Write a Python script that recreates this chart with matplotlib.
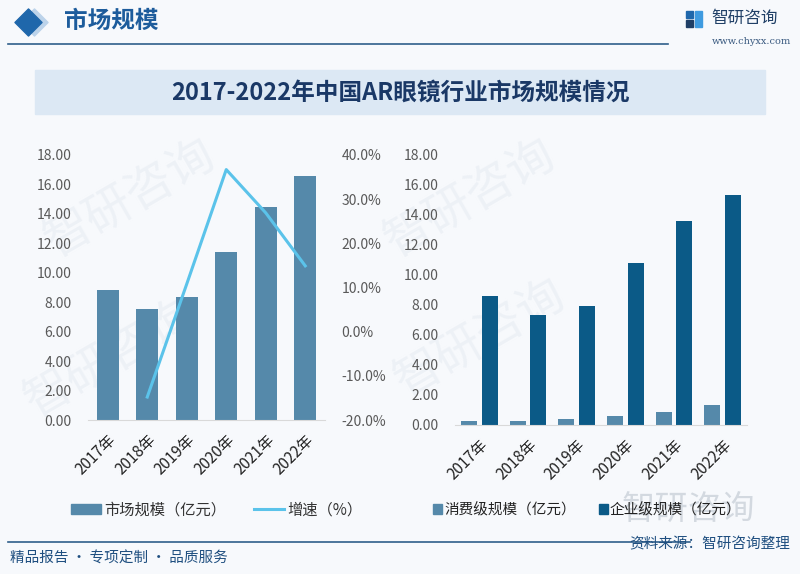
import matplotlib
matplotlib.use("Agg")
import matplotlib.pyplot as plt
from matplotlib.patches import Rectangle, Patch
from matplotlib.lines import Line2D
import numpy as np

plt.rcParams['font.family'] = ['Noto Sans CJK SC', 'DejaVu Sans']

years = ["2017年", "2018年", "2019年", "2020年", "2021年", "2022年"]
market_size = [8.83, 7.52, 8.33, 11.39, 14.45, 16.60]
growth = [None, -14.8, 10.8, 36.7, 26.9, 14.9]
consumer = [0.25, 0.24, 0.40, 0.63, 0.88, 1.30]
enterprise = [8.58, 7.28, 7.93, 10.76, 13.57, 15.30]
left_ticks = [0, 2, 4, 6, 8, 10, 12, 14, 16, 18]
right_pct_ticks = [-20, -10, 0, 10, 20, 30, 40]

W, H = 800, 574
fig = plt.figure(figsize=(W / 100, H / 100), dpi=100)
fig.patch.set_facecolor("#f7f9fc")

def fx(x):
    return x / W

def fy(y):
    return 1 - y / H

def add_ax(x0, y0, x1, y1):
    return fig.add_axes([fx(x0), fy(y1), fx(x1 - x0), (y1 - y0) / H])

# background overlay axes for decorations
bg = fig.add_axes([0, 0, 1, 1], zorder=-5)
bg.set_xlim(0, W)
bg.set_ylim(H, 0)
bg.axis("off")

# faint watermarks
for (wx, wy) in [(130, 200), (470, 200), (110, 360), (480, 340)]:
    bg.text(wx, wy, "智研咨询", fontsize=34, color="#edf1f6", rotation=30,
            ha="center", va="center", zorder=0)

# header
bg.scatter([34], [22], marker="D", s=190, color="#bcd3ea", zorder=1)
bg.scatter([28], [22], marker="D", s=190, color="#1f67ab", zorder=2)
bg.text(64, 21, "市场规模", fontsize=17, fontweight="bold", color="#1d5c9c",
        ha="left", va="center")
bg.plot([8, 668], [44, 44], color="#2f5f8a", lw=1.2)
bg.add_patch(Rectangle((686, 11), 7, 7, color="#1f67ab"))
bg.add_patch(Rectangle((695, 11), 7, 16, color="#3f9be0"))
bg.add_patch(Rectangle((686, 20), 7, 7, color="#1f3f66"))
bg.text(711, 18, "智研咨询", fontsize=12, color="#1f3f66", ha="left", va="center")
bg.text(712, 42, "www.chyxx.com", fontsize=7, family="DejaVu Serif",
        color="#3a5a80", ha="left", va="center")

# title band
bg.add_patch(Rectangle((35, 70), 730, 44, color="#dce8f4", zorder=1))
bg.text(400, 93, "2017-2022年中国AR眼镜行业市场规模情况", fontsize=17,
        fontweight="bold", color="#1a3866", ha="center", va="center", zorder=2)

# footer
bg.plot([8, 690], [542, 542], color="#2f5f8a", lw=1.2)
bg.text(10, 559, "精品报告 · 专项定制 · 品质服务", fontsize=10.5, color="#1f4f80",
        ha="left", va="center")
bg.text(622, 509, "智研咨询", fontsize=24, color="#d3d9e0", ha="left", va="center", zorder=0)
bg.text(790, 544, "资料来源：智研咨询整理", fontsize=10.5, color="#1f4f80",
        ha="right", va="center", zorder=3)

tick_color = "#595959"
x = np.arange(len(years))

# ---- left chart ----
ax1 = add_ax(88, 155, 325, 420)
ax1.patch.set_alpha(0)
ax1.bar(x, market_size, width=0.56, color="#5589aa", zorder=2)
ax1.set_xlim(-0.5, 5.5)
ax1.set_ylim(0, 18)
ax1.set_yticks(left_ticks)
ax1.set_yticklabels([f"{v:.2f}" for v in left_ticks])
ax1.set_xticks(x)
ax1.set_xticklabels(years, rotation=45, ha="right", va="top", rotation_mode="anchor")
for s in ["top", "right", "left"]:
    ax1.spines[s].set_visible(False)
ax1.spines["bottom"].set_color("#d9d9d9")
ax1.tick_params(length=0, colors=tick_color, labelsize=10)
ax1.tick_params(axis="x", pad=8, labelsize=11, colors="#222222")
ax1.tick_params(axis="y", pad=12)

ax2 = ax1.twinx()
gx = [i for i, g in enumerate(growth) if g is not None]
gy = [g for g in growth if g is not None]
ax2.plot(gx, gy, color="#5bc3ea", lw=2.2, zorder=3)
ax2.set_ylim(-20, 40)
ax2.set_yticks(right_pct_ticks)
ax2.set_yticklabels([f"{v:.1f}%" for v in right_pct_ticks])
for s in ["top", "right", "left", "bottom"]:
    ax2.spines[s].set_visible(False)
ax2.tick_params(length=0, colors=tick_color, labelsize=10, pad=12)

h1 = [Patch(color="#5589aa"), Line2D([0], [0], color="#5bc3ea", lw=2.2)]
fig.legend(h1, ["市场规模（亿元）", "增速（%）"], loc="center left",
           bbox_to_anchor=(fx(57), fy(510)), ncol=2, frameon=False, fontsize=11,
           handlelength=2.0, handleheight=0.6, columnspacing=1.8, handletextpad=0.2,
           labelcolor="#333333")

# ---- right chart ----
ax3 = add_ax(455, 154, 747, 425)
ax3.patch.set_alpha(0)
ax3.bar(x - 0.21, consumer, width=0.33, color="#5589aa", zorder=2)
ax3.bar(x + 0.21, enterprise, width=0.33, color="#0b5a87", zorder=2)
ax3.set_xlim(-0.5, 5.5)
ax3.set_ylim(0, 18)
ax3.set_yticks(left_ticks)
ax3.set_yticklabels([f"{v:.2f}" for v in left_ticks])
ax3.set_xticks(x)
ax3.set_xticklabels(years, rotation=45, ha="right", va="top", rotation_mode="anchor")
for s in ["top", "right", "left"]:
    ax3.spines[s].set_visible(False)
ax3.spines["bottom"].set_color("#d9d9d9")
ax3.tick_params(length=0, colors=tick_color, labelsize=10)
ax3.tick_params(axis="x", pad=8, labelsize=11, colors="#222222")
ax3.tick_params(axis="y", pad=12)

h2 = [Patch(color="#5589aa"), Patch(color="#0b5a87")]
fig.legend(h2, ["消费级规模（亿元）", "企业级规模（亿元）"], loc="center left",
           bbox_to_anchor=(fx(420), fy(510)), ncol=2, frameon=False, fontsize=10.5,
           handlelength=0.6, handleheight=0.6, columnspacing=1.6, handletextpad=0.15,
           labelcolor="#222222")

fig.savefig("out.png", dpi=100, facecolor=fig.get_facecolor())
